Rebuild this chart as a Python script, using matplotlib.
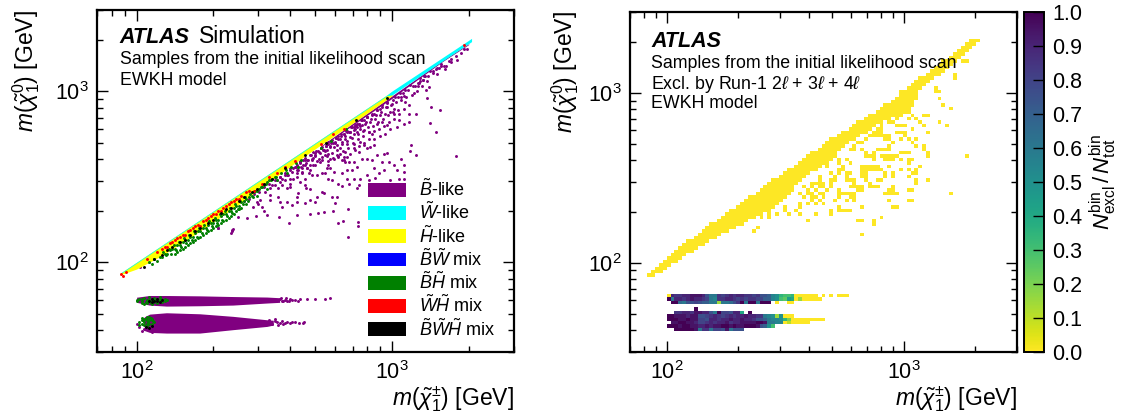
import numpy as np
import matplotlib
matplotlib.use("Agg")
import matplotlib.pyplot as plt
from matplotlib.patches import Patch

plt.rcParams['font.family'] = ['Liberation Sans', 'DejaVu Sans']
plt.rcParams['mathtext.fontset'] = 'custom'
plt.rcParams['mathtext.rm'] = 'Liberation Sans'
plt.rcParams['mathtext.it'] = 'Liberation Sans:italic'
plt.rcParams['mathtext.bf'] = 'Liberation Sans:bold'

N = np.nan

# left panel, masses as log10(m / GeV)
diag_lx = [1.935, 2.0, 2.1, 2.2, 2.3, 2.4, 2.5, 2.6, 2.7, 2.8, 2.9, 3.0]
yellow_lo = [1.925, 1.96, 2.04, 2.135, 2.235, 2.34, 2.45, 2.56, 2.665, 2.767, 2.87, 2.975]
cyan_lx = [1.94, 2.2, 2.6, 2.98, 3.0, 3.311]
cyan_up = [1.94, 2.2, 2.6, 2.98, 3.003, 3.311]
cyan_lo = [1.935, 2.195, 2.595, 2.975, 2.98, 3.292]
edge_lx = [2.72, 2.8, 2.9, 3.0, 3.1, 3.2, 3.3]
edge_up = [2.68, 2.765, 2.87, 2.975, 3.08, 3.185, 3.28]
edge_lo = [2.675, 2.755, 2.858, 2.96, 3.07, 3.178, 3.275]

bino_lx = [
    2.374, 2.378, 2.319, 2.597, 2.790, 2.807, 2.826, 2.866, 2.866, 2.398, 2.431, 2.466, 2.512, 2.559, 2.627, 2.677, 2.709, 2.735,
    2.768, 2.827, 2.489, 2.499, 2.476, 2.483, 2.503, 2.522, 2.522, 2.555, 2.561, 2.588, 2.568, 2.607, 2.627, 2.660, 2.679, 2.699,
    2.705, 2.725, 2.732, 2.764, 2.784, 2.777, 2.627, 2.633, 2.662, 2.660, 2.679, 2.601, 2.581, 2.601, 2.627, 2.633, 2.666, 2.673,
    2.686, 2.699, 2.705, 2.725, 2.745, 2.738, 2.751, 2.764, 2.771, 2.804, 2.823, 2.790, 2.804, 2.862, 2.869, 2.830, 2.849, 2.823,
    2.843, 2.862, 2.751, 2.758, 2.771, 2.790, 2.804, 2.817, 2.830, 2.849, 2.882, 2.902, 2.921, 2.941, 2.967, 2.980, 2.961, 2.987,
    3.006, 3.020, 3.046, 3.033, 3.072, 2.876, 2.902, 2.948, 2.967, 2.928, 2.908, 2.928, 2.934, 2.993, 3.026, 3.046, 3.046, 2.902,
    2.915, 2.928, 2.889, 2.876, 2.849, 2.823, 2.817, 2.797, 2.784, 2.777, 2.790, 2.810, 2.823, 2.836, 2.849, 2.862, 2.882, 2.895,
    2.915, 2.934, 2.954, 2.974, 2.993, 3.006, 2.980, 2.954, 2.928, 2.902, 2.889, 2.869, 2.856, 2.849, 2.836, 2.817, 2.804, 2.862,
    2.876, 2.889, 2.908, 2.921, 2.941, 2.961, 2.980, 2.993, 3.020, 3.046, 3.065, 3.026, 3.006, 3.046, 3.033, 3.052, 3.000, 2.745,
    2.725, 2.712, 2.692, 2.699, 2.686, 2.666, 2.653, 2.640, 2.627, 2.614, 2.601, 2.594, 2.581, 2.561, 2.542, 2.522, 2.568, 2.555,
    2.470, 2.457, 2.732, 2.745, 2.758, 2.771, 2.764, 2.751, 2.738, 2.725, 2.712, 2.751, 2.718, 2.692, 2.660, 2.646, 2.646, 2.627,
    2.614, 2.640, 2.660, 2.601, 2.588, 2.561, 2.679, 2.758, 2.784, 2.797, 2.810, 2.836, 2.856, 2.869, 2.823,
    3.251, 3.170, 3.148, 3.187, 3.153, 3.137, 3.144, 3.131, 3.075, 3.092, 3.092, 3.065, 3.111, 3.209, 3.255, 3.281, 3.295, 3.190,
    3.160, 3.175, 3.120, 3.105, 3.085, 3.100, 3.125, 3.230, 3.270,
]
bino_ly = [
    2.185, 2.193, 2.203, 2.232, 2.228, 2.243, 2.150, 2.237, 2.212, 2.263, 2.259, 2.273, 2.278, 2.267, 2.276, 2.282, 2.290, 2.294,
    2.302, 2.313, 2.321, 2.302, 2.341, 2.364, 2.413, 2.364, 2.393, 2.383, 2.350, 2.354, 2.325, 2.335, 2.354, 2.345, 2.364, 2.354,
    2.383, 2.413, 2.407, 2.383, 2.383, 2.345, 2.383, 2.403, 2.432, 2.451, 2.428, 2.442, 2.481, 2.490, 2.500, 2.539, 2.549, 2.520,
    2.510, 2.568, 2.510, 2.524, 2.549, 2.520, 2.490, 2.481, 2.529, 2.520, 2.490, 2.461, 2.446, 2.432, 2.451, 2.461, 2.490, 2.539,
    2.539, 2.559, 2.568, 2.607, 2.607, 2.617, 2.597, 2.588, 2.588, 2.588, 2.607, 2.607, 2.597, 2.627, 2.636, 2.640, 2.588, 2.588,
    2.568, 2.543, 2.568, 2.603, 2.652, 2.490, 2.510, 2.520, 2.539, 2.549, 2.481, 2.461, 2.496, 2.481, 2.490, 2.490, 2.529, 2.666,
    2.675, 2.685, 2.685, 2.704, 2.695, 2.695, 2.646, 2.666, 2.685, 2.704, 2.724, 2.753, 2.763, 2.763, 2.773, 2.792, 2.802, 2.811,
    2.821, 2.841, 2.860, 2.870, 2.880, 2.899, 2.909, 2.899, 2.870, 2.850, 2.831, 2.811, 2.802, 2.753, 2.734, 2.724, 2.704, 2.763,
    2.782, 2.773, 2.763, 2.753, 2.811, 2.821, 2.802, 2.782, 2.792, 2.811, 2.821, 2.870, 2.870, 2.971, 2.967, 2.938, 2.928, 2.695,
    2.675, 2.646, 2.646, 2.627, 2.607, 2.597, 2.597, 2.588, 2.568, 2.549, 2.539, 2.510, 2.510, 2.500, 2.451, 2.432, 2.451, 2.432,
    2.354, 2.325, 2.656, 2.656, 2.675, 2.675, 2.714, 2.704, 2.627, 2.617, 2.607, 2.636, 2.588, 2.568, 2.568, 2.549, 2.520, 2.520,
    2.490, 2.471, 2.490, 2.461, 2.432, 2.471, 2.539, 2.549, 2.627, 2.636, 2.617, 2.636, 2.656, 2.646, 2.617,
    2.621, 2.763, 2.815, 2.893, 2.909, 2.963, 3.029, 3.010, 2.685, 2.626, 2.870, 2.866, 3.064, 3.132, 3.185, 3.249, 3.249, 3.152,
    3.120, 3.140, 3.070, 3.050, 2.990, 3.030, 3.090, 3.170, 3.225,
]

# cloud hugging the lower edge of the band
fringe_lx = [
    2.012, 2.05, 2.10, 2.195, 2.318, 2.375, 2.37, 2.42, 2.44, 2.46, 2.48, 2.50, 2.52, 2.54, 2.56, 2.58, 2.60, 2.62,
    2.64, 2.66, 2.68, 2.70, 2.72, 2.74, 2.76, 2.78, 2.80, 2.82, 2.84, 2.86, 2.88, 2.90, 2.92, 2.94, 2.96, 2.98,
    2.53, 2.55, 2.57, 2.59, 2.61, 2.63, 2.65, 2.67, 2.69, 2.71, 2.73, 2.75, 2.77, 2.79, 2.81, 2.83, 2.85, 2.87,
    3.01, 3.03, 3.05, 3.07, 3.09, 3.11, 3.13, 3.15, 3.17, 3.19, 3.21, 3.23, 3.25,
    2.622, 2.626, 2.641, 2.644, 2.647, 2.661, 2.664, 2.667, 2.682, 2.685, 2.678, 2.703, 2.697, 2.706, 2.722, 2.716, 2.725,
    2.742, 2.736, 2.745, 2.748, 2.762, 2.756, 2.765, 2.768, 2.782, 2.776, 2.785, 2.788, 2.802, 2.796, 2.805, 2.808, 2.811,
    2.822, 2.816, 2.825, 2.828, 2.842, 2.836, 2.845, 2.848, 2.851, 2.862, 2.856, 2.865, 2.868, 2.871, 2.882, 2.876, 2.885,
    2.888, 2.891, 2.902, 2.896, 2.905, 2.908, 2.911, 2.922, 2.916, 2.925, 2.928, 2.931, 2.942, 2.936, 2.945, 2.948, 2.951,
    2.962, 2.956, 2.965, 2.968, 2.971, 2.982, 2.976, 2.985, 2.988, 3.002, 2.996, 3.005, 3.008, 3.022, 3.016, 3.025, 3.028,
    3.042, 3.036, 3.045, 3.062, 3.056, 3.065, 3.082, 3.076, 3.102, 3.096, 3.122, 3.116, 3.142, 3.136, 3.162, 3.182, 3.176, 3.202, 3.222,
]
fringe_ly = [
    1.974, 2.00, 2.05, 2.179, 2.20, 2.19, 2.17, 2.36, 2.37, 2.40, 2.41, 2.44, 2.46, 2.48, 2.50, 2.52, 2.55, 2.56,
    2.59, 2.60, 2.63, 2.64, 2.67, 2.68, 2.71, 2.73, 2.74, 2.77, 2.79, 2.80, 2.83, 2.85, 2.86, 2.89, 2.91, 2.93,
    2.45, 2.48, 2.49, 2.51, 2.53, 2.56, 2.57, 2.60, 2.61, 2.65, 2.66, 2.69, 2.70, 2.74, 2.75, 2.76, 2.79, 2.81,
    2.97, 2.99, 3.01, 3.04, 3.03, 3.08, 3.09, 3.12, 3.13, 3.16, 3.15, 3.19, 3.21,
    2.56, 2.54, 2.58, 2.56, 2.53, 2.61, 2.58, 2.55, 2.63, 2.60, 2.57, 2.65, 2.62, 2.59, 2.67, 2.64, 2.60,
    2.68, 2.65, 2.62, 2.59, 2.70, 2.68, 2.64, 2.61, 2.73, 2.70, 2.66, 2.62, 2.75, 2.72, 2.69, 2.65, 2.60,
    2.77, 2.74, 2.71, 2.67, 2.79, 2.76, 2.73, 2.70, 2.67, 2.81, 2.78, 2.75, 2.72, 2.68, 2.83, 2.80, 2.77,
    2.74, 2.70, 2.85, 2.82, 2.79, 2.76, 2.72, 2.87, 2.84, 2.80, 2.77, 2.72, 2.89, 2.86, 2.82, 2.78, 2.74,
    2.92, 2.88, 2.84, 2.80, 2.75, 2.94, 2.91, 2.86, 2.82, 2.95, 2.92, 2.88, 2.84, 2.97, 2.94, 2.89, 2.83,
    2.99, 2.95, 2.90, 3.01, 2.97, 2.92, 3.03, 2.98, 3.05, 3.00, 3.07, 3.03, 3.09, 3.06, 3.11, 3.14, 3.10, 3.15, 3.18,
]

green_lx = [
    2.05, 2.06, 2.07, 2.08, 2.09, 2.10, 2.11, 2.12, 2.13, 2.14, 2.15, 2.16, 2.17, 2.18, 2.19, 2.20, 2.21, 2.22, 2.23, 2.24,
    2.25, 2.26, 2.27, 2.28, 2.29, 2.30, 2.31, 2.32, 2.33, 2.34, 2.35, 2.36, 2.37, 2.38, 2.39, 2.40, 2.41, 2.42, 2.43, 2.44,
    2.45, 2.46, 2.47, 2.48, 2.49, 2.50, 2.51, 2.52, 2.53, 2.54,
    2.105, 2.125, 2.145, 2.165, 2.185, 2.205, 2.225, 2.245, 2.265, 2.285, 2.305, 2.325, 2.345, 2.365, 2.385, 2.405, 2.425,
    2.445, 2.465, 2.485, 2.505, 2.525, 2.545, 2.565, 2.585, 2.605, 2.625, 2.645, 2.72, 2.76, 2.82,
    2.115, 2.135, 2.155, 2.175, 2.195, 2.215, 2.235, 2.255, 2.275, 2.295, 2.315, 2.335, 2.355, 2.375, 2.395, 2.415, 2.435, 2.455,
    2.15, 2.17, 2.19, 2.21, 2.23, 2.25, 2.27, 2.29, 2.31, 2.33, 2.35, 2.37, 2.39, 2.41, 2.43, 2.47, 2.51, 2.55, 2.59, 2.63,
    2.16, 2.18, 2.20, 2.22, 2.24, 2.26, 2.28, 2.30, 2.32, 2.34, 2.36, 2.38, 2.40,
]
green_ly = [
    2.00, 1.99, 2.02, 2.01, 2.03, 2.03, 2.05, 2.05, 2.07, 2.08, 2.08, 2.10, 2.10, 2.12, 2.13, 2.13, 2.15, 2.15, 2.17, 2.18,
    2.18, 2.20, 2.20, 2.22, 2.23, 2.23, 2.25, 2.25, 2.27, 2.28, 2.28, 2.30, 2.30, 2.32, 2.33, 2.33, 2.35, 2.36, 2.37, 2.38,
    2.39, 2.41, 2.42, 2.43, 2.44, 2.45, 2.47, 2.48, 2.49, 2.50,
    2.06, 2.08, 2.10, 2.12, 2.14, 2.16, 2.18, 2.20, 2.22, 2.24, 2.26, 2.28, 2.30, 2.32, 2.34, 2.36, 2.38,
    2.40, 2.42, 2.44, 2.46, 2.48, 2.50, 2.52, 2.54, 2.56, 2.58, 2.60, 2.67, 2.71, 2.78,
    2.04, 2.05, 2.07, 2.09, 2.11, 2.13, 2.15, 2.17, 2.19, 2.21, 2.23, 2.25, 2.27, 2.29, 2.31, 2.34, 2.36, 2.38,
    2.05, 2.07, 2.09, 2.11, 2.13, 2.15, 2.17, 2.19, 2.21, 2.23, 2.25, 2.27, 2.30, 2.32, 2.34, 2.39, 2.43, 2.48, 2.52, 2.56,
    2.06, 2.08, 2.10, 2.12, 2.14, 2.16, 2.18, 2.20, 2.22, 2.24, 2.26, 2.28, 2.31,
]
red_lx = [1.94, 1.945, 1.96, 2.04, 2.08, 2.10, 2.12, 2.14, 2.16, 2.17, 2.19, 2.20, 2.22, 2.23, 2.25, 2.26, 2.28, 2.29, 2.31, 2.33, 2.35, 2.36, 2.38, 2.40, 2.41, 2.44, 2.46, 2.49, 2.52, 2.55, 2.58, 2.62, 2.72, 2.77, 2.81, 3.28,
          2.11, 2.13, 2.15, 2.18, 2.21, 2.24, 2.27, 2.30, 2.32, 2.34, 2.37, 2.39, 2.43]
red_ly = [1.93, 1.92, 1.94, 2.02, 2.06, 2.08, 2.09, 2.12, 2.14, 2.15, 2.16, 2.18, 2.20, 2.21, 2.21, 2.24, 2.26, 2.27, 2.28, 2.30, 2.33, 2.34, 2.36, 2.37, 2.39, 2.42, 2.42, 2.46, 2.50, 2.52, 2.56, 2.59, 2.69, 2.75, 2.78, 3.27,
          2.09, 2.11, 2.13, 2.16, 2.19, 2.22, 2.25, 2.28, 2.30, 2.32, 2.35, 2.37, 2.41]
black_lx = [2.03, 2.07, 2.10, 2.12, 2.14, 2.17, 2.19, 2.21, 2.23, 2.25, 2.28, 2.30, 2.33, 2.35, 2.37, 2.40, 2.42, 2.45, 2.47, 2.50, 2.53, 2.58, 2.66, 2.74, 2.86, 2.98]
black_ly = [1.97, 2.02, 2.04, 2.07, 2.09, 2.12, 2.13, 2.16, 2.18, 2.20, 2.23, 2.25, 2.29, 2.31, 2.32, 2.36, 2.38, 2.41, 2.43, 2.46, 2.49, 2.55, 2.63, 2.70, 2.83, 2.96]

# the two low-mass funnels
funnel_a_lx = [2.00, 2.05, 2.117, 2.247, 2.377, 2.51, 2.56]
funnel_a_up = [1.795, 1.805, 1.805, 1.803, 1.799, 1.796, 1.792]
funnel_a_lo = [1.765, 1.749, 1.743, 1.745, 1.749, 1.761, 1.765]
funnel_b_lx = [2.03, 2.051, 2.117, 2.247, 2.377, 2.51, 2.535]
funnel_b_up = [1.68, 1.696, 1.704, 1.698, 1.683, 1.663, 1.66]
funnel_b_lo = [1.60, 1.589, 1.585, 1.585, 1.605, 1.624, 1.632]
tail_lx = [
    2.562, 2.57, 2.581, 2.59, 2.601, 2.61, 2.621, 2.63, 2.640, 2.667, 2.699, 2.739, 2.758, 2.565, 2.575, 2.585, 2.595,
    2.52, 2.53, 2.54, 2.55, 2.56, 2.57, 2.58, 2.59, 2.60, 2.61, 2.62, 2.635, 2.65, 2.656, 2.54, 2.555, 2.575,
    2.00, 2.01, 2.03, 2.02, 2.06,
]
tail_ly = [
    1.785, 1.775, 1.78, 1.775, 1.784, 1.776, 1.78, 1.775, 1.784, 1.784, 1.782, 1.784, 1.79, 1.79, 1.77, 1.788, 1.77,
    1.66, 1.64, 1.655, 1.65, 1.645, 1.655, 1.643, 1.652, 1.646, 1.648, 1.65, 1.645, 1.645, 1.652, 1.665, 1.635, 1.64,
    1.64, 1.62, 1.61, 1.60, 1.59,
]
green_a_lx = [2.00, 2.01, 2.02, 2.03, 2.04, 2.05, 2.06, 2.07, 2.08, 2.09, 2.10, 2.11, 2.02, 2.04, 2.06, 2.08, 2.10, 2.03, 2.05, 2.07, 2.09, 2.11, 2.12, 2.00, 2.02, 2.04, 2.07, 2.09, 2.05, 2.06, 2.08, 2.095, 2.035, 2.055, 2.075]
green_a_ly = [1.78, 1.785, 1.77, 1.79, 1.76, 1.795, 1.755, 1.79, 1.76, 1.795, 1.765, 1.785, 1.785, 1.775, 1.775, 1.775, 1.78, 1.755, 1.78, 1.765, 1.78, 1.77, 1.78, 1.77, 1.76, 1.78, 1.78, 1.77, 1.77, 1.785, 1.785, 1.785, 1.765, 1.76, 1.78]
green_b_lx = [2.01, 2.02, 2.03, 2.04, 2.05, 2.06, 2.07, 2.02, 2.03, 2.04, 2.05, 2.06, 2.03, 2.04, 2.05, 2.01, 2.02, 2.04, 2.06, 2.035, 2.045, 2.055, 2.025, 2.065]
green_b_ly = [1.65, 1.66, 1.67, 1.64, 1.68, 1.66, 1.65, 1.64, 1.65, 1.66, 1.66, 1.67, 1.63, 1.625, 1.64, 1.635, 1.675, 1.68, 1.64, 1.67, 1.65, 1.675, 1.66, 1.655]
black_f_lx = [2.05, 2.06, 2.07, 2.08, 2.09, 2.10, 2.06, 2.08, 2.035, 2.05, 2.06]
black_f_ly = [1.77, 1.765, 1.775, 1.785, 1.765, 1.78, 1.785, 1.77, 1.62, 1.615, 1.625]

legend_labels = [r'$\tilde{B}$-like', r'$\tilde{W}$-like', r'$\tilde{H}$-like', r'$\tilde{B}\tilde{W}$ mix',
                 r'$\tilde{B}\tilde{H}$ mix', r'$\tilde{W}\tilde{H}$ mix', r'$\tilde{B}\tilde{W}\tilde{H}$ mix']
legend_colors = ['purple', 'cyan', 'yellow', 'blue', 'green', 'red', 'black']

# right panel, 100 x 100 log bins, cells
band_rows = list(range(22, 92))
band_lo = [5, 6, 7, 8, 9, 10, 11, 12, 13, 14, 15, 17, 18, 19, 20, 21, 23, 24, 25, 26,
           28, 29, 30, 31, 33, 34, 35, 36, 37, 39, 40, 41, 43, 44, 45, 46, 47, 49, 50, 51,
           52, 54, 55, 57, 58, 59, 61, 62, 64, 65, 66, 68, 69, 70, 70, 72, 73, 74, 75, 77,
           78, 79, 80, 81, 83, 84, 85, 86, 87, 88]
band_hi = [7, 9, 10, 11, 13, 14, 15, 17, 18, 20, 21, 23, 24, 26, 28, 30, 31, 33, 35, 37,
           38, 39, 40, 41, 42, 43, 43, 44, 45, 46, 47, 49, 50, 52, 53, 54, 54, 55, 56, 57,
           59, 60, 62, 63, 64, 66, 68, 71, 73, 73, 74, 74, 75, 75, 75, 76, 77, 78, 79, 81,
           82, 83, 84, 85, 86, 87, 88, 89, 90, 91]
sparse_cells = {
    34: [60], 35: [32], 36: [33], 37: [63], 38: [46, 59, 60, 63], 39: [34, 36, 65],
    40: [36, 38, 41, 44, 48, 52], 41: [40, 43, 52, 54, 55, 56, 57], 42: [35, 40, 44, 54, 60, 68, 69],
    43: [44, 46, 48, 50], 44: [47, 49, 53, 56, 58, 67, 72, 73], 45: [45, 47, 48, 50, 54, 57, 58],
    46: [44, 46, 47, 49, 50, 54, 55, 56, 57, 58, 66, 67, 68, 69, 83], 47: [46, 48, 51, 54, 59, 60, 67, 68, 72, 73],
    48: [45, 47, 49, 50, 52, 57, 58, 59, 60, 62, 63, 64, 68], 49: [47, 48, 49, 50, 52, 58, 62, 74],
    50: [49, 52, 53, 56, 57, 58, 61, 64, 65, 74, 77], 51: [49, 53, 56, 60, 61, 66, 68, 72],
    52: [52, 54, 56, 57, 60, 61, 66, 68, 73, 74], 53: [54, 55, 60, 61, 62, 63, 64, 65, 70, 72, 74],
    54: [51, 55, 60, 61, 62, 63, 64, 67, 75], 55: [54, 57, 72], 56: [54, 56, 63, 66, 67, 68, 70, 72, 73],
    57: [61, 62, 63, 65, 66, 67, 68, 69, 77, 87], 58: [61, 63, 70, 71, 72, 77], 59: [57, 58, 60, 64, 65, 66, 67, 76],
    60: [58, 67, 76, 74], 61: [59, 60, 68, 73], 62: [61, 66, 67, 70, 72, 74], 63: [62, 63, 64, 65, 66, 67, 71],
    64: [63, 64, 65, 69, 70, 71, 77], 65: [64, 65, 73], 66: [65, 69, 70, 71, 76, 82], 67: [67, 68, 75, 80],
    68: [69, 72, 74], 69: [73, 76, 77], 71: [83], 72: [81], 74: [80],
    76: [79, 80], 77: [79], 80: [84], 81: [84], 85: [86, 87],
}
blob_rows = [16, 15, 14, 12, 11, 10, 9, 8, 7, 6]
blob_values = [
    [0, .9, .85, .85, .9, .9, .95, .95, .95, .9, .75, .6, .6, .85, .8, .85, .9, .85, .9, .9, .85, .85, .8, .85, .75, .75, .7,
     .55, .5, .35, .3, .3, .35, 0, 0, 0, 0, 0, 0, N, 0, N, 0, N, 0, 0, 0],
    [1, .6, .9, .9, .85, .9, .95, .9, .9, .85, .8, .6, .55, .85, .85, .9, .9, .85, .8, .85, .8, .85, .85, .8, .8, .7, .7,
     .55, .5, .3, .25, .45, .4, 0, .15, 0, 0, 0, 0, 0],
    [N, 1, 1, .65, .6, .75, .75, .8, .75, .7, .7, .6, .6, .15, .6, .6, .65, .75, .85, 1, .6, 1, 1, .6, 1, 1, 1, N, 0, N, N, 0, 0],
    [N, N, N, N, N, N, N, 1],
    [N, N, .85, .85, .9, .9, .85, .95, .95, .9, .9, .75, .6, 1, .8, .8, .75, .9, .9, .4, N, 1],
    [1, 1, .95, .95, .95, .9, .95, .95, .75, .75, .8, .85, .9, .85, .8, .85, .9, .85, .9, .9, .95, .9, .9, .85, .85,
     .6, .55, .5, .15, .5, 0, 0, 0],
    [1, 1, 1, .95, .95, 1, .95, .95, .8, .8, .75, .9, .9, .85, .9, .9, .95, .9, .9, .95, .9, .9, .85, .75, .75, .7, .6, .55,
     .55, .5, .35, .2, 0, 0, 0, 0, 0, 0, 0, 0, 0],
    [N, .95, .95, 1, 1, .95, .95, .9, .8, .8, .85, .9, .85, .9, .9, .95, .85, .9, .9, .95, .95, .95, .95, 1, 1, .95,
     .6, .6, .55, .55, 0, .1, 0, 0, 0, 0, 0],
    [1, 1, 1, .95, 1, 1, .95, .95, .9, .9, .95, .9, .95, .95, 1, 1, .95, 1, .95, .95, 1, 1, 1, .95, .75, .7, .5, .3],
    [N, N, 1, 1, 1, 1, 1, .95, .6, .85, .85, .6, .8, .8, .75, .95, .6, .75, .75, .75],
]

cbar_ticks = [0.0, 0.1, 0.2, 0.3, 0.4, 0.5, 0.6, 0.7, 0.8, 0.9, 1.0]

grid = np.full((100, 100), np.nan)
for j, lo, hi in zip(band_rows, band_lo, band_hi):
    grid[j, lo:hi] = 0
for j, cells in sparse_cells.items():
    grid[j, cells] = 0
for j, vals in zip(blob_rows, blob_values):
    grid[j, 10:10 + len(vals)] = vals

x_edges = 10 ** (2.0 + (np.arange(101) - 10) * 0.01632)
y_edges = 10 ** (np.log10(30) + np.arange(101) * 0.02)

W, H = 1123, 419
fig = plt.figure(figsize=(W / 100, H / 100), dpi=100)


def pix_axes(x0, y_top, x1, y_bot):
    return fig.add_axes([x0 / W, 1 - y_bot / H, (x1 - x0) / W, (y_bot - y_top) / H])


def style(ax, ypad):
    ax.set_xscale('log')
    ax.set_yscale('log')
    ax.set_xlim(70, 3000)
    ax.set_ylim(30, 3000)
    ax.tick_params(which='major', direction='in', top=True, right=True, length=8, width=1, labelsize=15.5, pad=6)
    ax.tick_params(which='minor', direction='in', top=True, right=True, length=4, width=1)
    ax.tick_params(axis='x', pad=7)
    for s in ax.spines.values():
        s.set_linewidth(1.6)
    ax.set_xlabel(r'$m(\tilde{\chi}_{1}^{\pm})$ [GeV]', fontsize=16.5, loc='right', labelpad=0)
    ax.set_ylabel(r'$m(\tilde{\chi}_{1}^{0})$ [GeV]', fontsize=16.5, loc='top', labelpad=ypad)


def dots(ax, lx, ly, color, z):
    ax.scatter(10 ** np.array(lx), 10 ** np.array(ly), s=4.5, color=color, linewidths=0, zorder=z)


def band(ax, lx, up, lo, color, z):
    ax.fill_between(10 ** np.array(lx), 10 ** np.array(up), 10 ** np.array(lo), color=color, linewidth=0, zorder=z)


ax1 = pix_axes(97, 10, 514, 351.5)
style(ax1, 9)
band(ax1, funnel_a_lx, funnel_a_up, funnel_a_lo, 'purple', 2)
band(ax1, funnel_b_lx, funnel_b_up, funnel_b_lo, 'purple', 2)
dots(ax1, tail_lx, tail_ly, 'purple', 2)
dots(ax1, bino_lx, bino_ly, 'purple', 2)
dots(ax1, fringe_lx, fringe_ly, 'purple', 2)
band(ax1, edge_lx, edge_up, edge_lo, 'purple', 2)
band(ax1, diag_lx, diag_lx, yellow_lo, 'yellow', 3)
band(ax1, cyan_lx, cyan_up, cyan_lo, 'cyan', 4)
dots(ax1, green_lx, green_ly, 'green', 5)
dots(ax1, green_a_lx, green_a_ly, 'green', 5)
dots(ax1, green_b_lx, green_b_ly, 'green', 5)
dots(ax1, red_lx, red_ly, 'red', 6)
dots(ax1, black_lx, black_ly, 'black', 7)
dots(ax1, black_f_lx, black_f_ly, 'black', 7)

ax1.text(0.055, 0.904, 'ATLAS', transform=ax1.transAxes, fontsize=15.5, style='italic', weight='bold')
ax1.text(0.2446, 0.904, 'Simulation', transform=ax1.transAxes, fontsize=16.5)
ax1.text(0.055, 0.842, 'Samples from the initial likelihood scan', transform=ax1.transAxes, fontsize=12.8)
ax1.text(0.055, 0.78, 'EWKH model', transform=ax1.transAxes, fontsize=12.8)

handles = [Patch(facecolor=c, edgecolor='none', label=l) for c, l in zip(legend_colors, legend_labels)]
ax1.legend(handles=handles, loc='lower left', bbox_to_anchor=(0.649, 0.035), frameon=False, fontsize=13,
           handlelength=2.1, handleheight=0.8, labelspacing=0.1, handletextpad=0.72, borderpad=0, borderaxespad=0)

ax2 = pix_axes(630, 11.7, 1017, 351.5)
style(ax2, 5)
mesh = ax2.pcolormesh(x_edges, y_edges, np.ma.masked_invalid(grid), cmap='viridis_r', vmin=0, vmax=1, linewidth=0)
ax2.text(0.0544, 0.897, 'ATLAS', transform=ax2.transAxes, fontsize=15.5, style='italic', weight='bold')
ax2.text(0.0544, 0.834, 'Samples from the initial likelihood scan', transform=ax2.transAxes, fontsize=12.8)
ax2.text(0.0544, 0.773, r'Excl. by Run-1 2$\ell$ + 3$\ell$ + 4$\ell$', transform=ax2.transAxes, fontsize=12.8)
ax2.text(0.0544, 0.716, 'EWKH model', transform=ax2.transAxes, fontsize=12.8)

cax = pix_axes(1024, 12, 1044, 351.5)
cbar = fig.colorbar(mesh, cax=cax, ticks=cbar_ticks)
cbar.ax.set_yticklabels(['%.1f' % t for t in cbar_ticks])
cbar.ax.tick_params(direction='in', length=8, width=1, labelsize=15.5, pad=6)
cbar.outline.set_linewidth(1.4)
cbar.set_label(r'$N_{\mathrm{excl}}^{\mathrm{bin}}\,/\,N_{\mathrm{tot}}^{\mathrm{bin}}$', fontsize=16, labelpad=4)

fig.savefig('out.png', dpi=100)
